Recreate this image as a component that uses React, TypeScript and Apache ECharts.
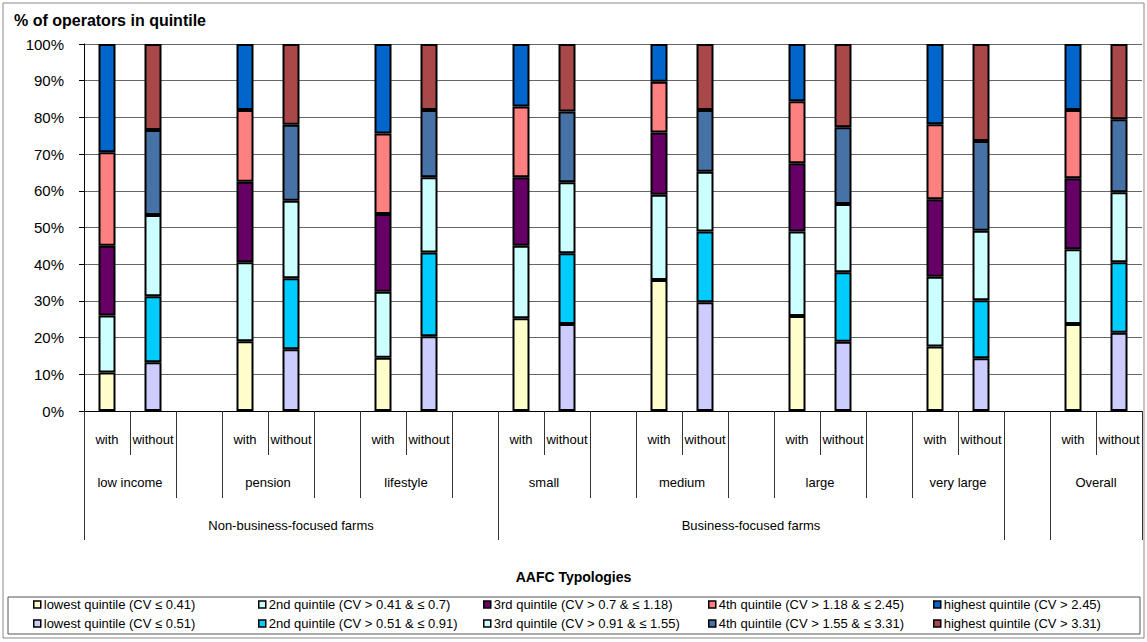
import React, { useEffect, useRef } from "react";
import * as echarts from "echarts";

// ---------- data ----------
const groups = ["low income", "pension", "lifestyle", "small", "medium", "large", "very large", "Overall"];
const subLabels = ["with", "without"];

// slot layout of the category axis (23 slots, '' = spacer slot)
const slotGroup = [
  "low income", "low income", "",
  "pension", "pension", "",
  "lifestyle", "lifestyle", "",
  "small", "small", "",
  "medium", "medium", "",
  "large", "large", "",
  "very large", "very large", "",
  "Overall", "Overall",
];
const slotSub = [
  "with", "without", "",
  "with", "without", "",
  "with", "without", "",
  "with", "without", "",
  "with", "without", "",
  "with", "without", "",
  "with", "without", "",
  "with", "without",
];
const superGroupLabels = ["Non-business-focused farms", "Business-focused farms", "", ""];
const superGroupSpans = [[0, 9], [9, 20], [20, 21], [21, 23]];

const withNames = [
  "lowest quintile (CV ≤ 0.41)",
  "2nd quintile (CV > 0.41 & ≤ 0.7)",
  "3rd quintile (CV > 0.7 & ≤ 1.18)",
  "4th quintile (CV > 1.18 & ≤ 2.45)",
  "highest quintile (CV > 2.45)",
];
const withoutNames = [
  "lowest quintile (CV ≤ 0.51)",
  "2nd quintile (CV > 0.51 & ≤ 0.91)",
  "3rd quintile (CV > 0.91 & ≤ 1.55)",
  "4th quintile (CV > 1.55 & ≤ 3.31)",
  "highest quintile (CV > 3.31)",
];

// values per group (order of `groups`)
const withLowest = [10.5, 19, 14.5, 25.3, 35.7, 25.9, 17.6, 23.7];
const with2nd = [15.5, 21.5, 18, 19.7, 23.2, 23, 19, 20.4];
const with3rd = [19, 22, 21.2, 18.7, 17, 18.6, 21.1, 19.3];
const with4th = [25.5, 19.5, 21.9, 19.3, 13.8, 16.9, 20.4, 18.6];
const withHighest = [29.5, 18, 24.4, 17, 10.3, 15.6, 21.9, 18];

const withoutLowest = [13.3, 16.8, 20.4, 23.7, 29.6, 18.9, 14.4, 21.3];
const without2nd = [18, 19.4, 22.8, 19.3, 19.3, 18.9, 15.8, 19.2];
const without3rd = [22.1, 21.1, 20.5, 19.3, 16.3, 18.6, 18.9, 19.1];
const without4th = [23.2, 20.7, 18.3, 19.3, 16.8, 20.9, 24.5, 19.9];
const withoutHighest = [23.4, 22, 18, 18.4, 18, 22.7, 26.4, 20.5];

const yTicks = [0, 10, 20, 30, 40, 50, 60, 70, 80, 90, 100];

const withColors = ["#FFFFCC", "#CCFFFF", "#660066", "#FF8080", "#0066CC"];
const withoutColors = ["#CCCCFF", "#00CCFF", "#CCFFFF", "#4672A6", "#A84848"];

const FONT = "'Liberation Sans', Arial, sans-serif";

export default function App() {
  const ref = useRef<HTMLDivElement>(null);
  useEffect(() => {
    if (!ref.current) return;
    const chart = echarts.init(ref.current, null, { renderer: "svg" });

    const slotKeys = slotGroup.map((g, i) => `${i}|${g}|${slotSub[i]}`);
    const nSlots = slotKeys.length;

    // half-step points along the axis (0..2*nSlots)
    const halfPoints = Array.from({ length: 2 * nSlots + 1 }, (_, j) => String(j));

    // level-2 boundaries & labels
    const lvl2Ticks = new Set<number>();
    const lvl2Labels: string[] = halfPoints.map(() => "");
    for (let i = 0; i <= nSlots; i++) {
      if (i === 0 || i === nSlots || slotGroup[i] !== slotGroup[i - 1]) lvl2Ticks.add(2 * i);
    }
    let start = 0;
    for (let i = 1; i <= nSlots; i++) {
      if (i === nSlots || slotGroup[i] !== slotGroup[i - 1]) {
        lvl2Labels[start + i] = slotGroup[start];
        start = i;
      }
    }
    // level-3
    const lvl3Ticks = new Set<number>();
    const lvl3Labels: string[] = halfPoints.map(() => "");
    superGroupSpans.forEach(([a, b], k) => {
      lvl3Ticks.add(2 * a);
      lvl3Ticks.add(2 * b);
      lvl3Labels[a + b] = superGroupLabels[k];
    });

    const withVals = [withLowest, with2nd, with3rd, with4th, withHighest];
    const withoutVals = [withoutLowest, without2nd, without3rd, without4th, withoutHighest];

    const mk = (vals: number[], sub: string) =>
      slotGroup.map((g, i) => (slotSub[i] === sub ? vals[groups.indexOf(g)] : null));

    const series: any[] = [];
    withNames.forEach((n, k) =>
      series.push({
        name: n,
        type: "bar",
        stack: "all",
        barWidth: 17,
        itemStyle: { color: withColors[k], borderColor: "#000", borderWidth: 2 },
        data: mk(withVals[k], subLabels[0]),
      })
    );
    withoutNames.forEach((n, k) =>
      series.push({
        name: n,
        type: "bar",
        stack: "all",
        barWidth: 17,
        itemStyle: { color: withoutColors[k], borderColor: "#000", borderWidth: 2 },
        data: mk(withoutVals[k], subLabels[1]),
      })
    );

    const legendX = [33, 258, 483, 708, 933];
    const legendY = [598, 617];
    const legends: any[] = [];
    [withNames, withoutNames].forEach((names, r) =>
      names.forEach((n, c) =>
        legends.push({
          data: [n],
          left: legendX[c],
          top: legendY[r],
          padding: 0,
          itemWidth: 7,
          itemHeight: 7,
          itemGap: 0,
          icon: "rect",
          selectedMode: false,
          itemStyle: { borderColor: "#000", borderWidth: 1.5 },
          textStyle: { fontSize: 13, fontFamily: FONT, color: "#000", padding: [0, 0, 0, -2] },
        })
      )
    );

    const tickColor = "#333";
    const labelBase = { fontSize: 13, fontFamily: FONT, color: "#000" };

    chart.setOption({
      animation: false,
      textStyle: { fontFamily: FONT },
      title: [
        {
          text: "% of operators in quintile",
          left: 14,
          top: 12,
          padding: 0,
          textStyle: { fontSize: 16, fontWeight: "bold", fontFamily: FONT, color: "#000" },
        },
        {
          text: "AAFC Typologies",
          left: "center",
          top: 570,
          padding: 0,
          textStyle: { fontSize: 14, fontWeight: "bold", fontFamily: FONT, color: "#000" },
        },
      ],
      legend: legends,
      grid: { left: 84, top: 44, width: 1058, height: 367, containLabel: false },
      xAxis: [
        {
          type: "category",
          data: slotKeys,
          boundaryGap: true,
          position: "bottom",
          axisLine: { show: true, lineStyle: { color: "#000" } },
          axisTick: { show: true, length: 44, interval: 0, lineStyle: { color: tickColor } },
          axisLabel: { ...labelBase, interval: 0, margin: 22, formatter: (_v: string, i: number) => slotSub[i] },
          splitLine: { show: false },
        },
        {
          type: "category",
          data: halfPoints,
          boundaryGap: false,
          position: "bottom",
          offset: 44,
          axisLine: { show: false },
          axisTick: { show: true, length: 43, interval: (i: number) => lvl2Ticks.has(i), lineStyle: { color: tickColor } },
          axisLabel: { ...labelBase, interval: 0, margin: 21, formatter: (_v: string, i: number) => lvl2Labels[i] },
          splitLine: { show: false },
        },
        {
          type: "category",
          data: halfPoints,
          boundaryGap: false,
          position: "bottom",
          offset: 87,
          axisLine: { show: false },
          axisTick: { show: true, length: 42, interval: (i: number) => lvl3Ticks.has(i), lineStyle: { color: tickColor } },
          axisLabel: { ...labelBase, interval: 0, margin: 21, formatter: (_v: string, i: number) => lvl3Labels[i] },
          splitLine: { show: false },
        },
      ],
      yAxis: {
        type: "value",
        min: yTicks[0],
        max: yTicks[yTicks.length - 1],
        interval: yTicks[1] - yTicks[0],
        axisLine: { show: true, lineStyle: { color: "#000" } },
        axisTick: { show: true, length: 5, lineStyle: { color: "#000" } },
        axisLabel: { fontSize: 15, fontFamily: FONT, color: "#000", margin: 20, formatter: "{value}%" },
        splitLine: { show: true, lineStyle: { color: "#666", width: 1 } },
      },
      graphic: [
        {
          type: "rect",
          shape: { x: 3, y: 3, width: 1141, height: 635 },
          style: { fill: "none", stroke: "#888", lineWidth: 1 },
          silent: true,
        },
        {
          type: "rect",
          shape: { x: 8, y: 597, width: 1132, height: 37 },
          style: { fill: "none", stroke: "#555", lineWidth: 1 },
          silent: true,
        },
      ],
      series,
    });
    return () => chart.dispose();
  }, []);
  return <div ref={ref} style={{ position: "absolute", left: 0, top: 0, width: 1147, height: 642 }} />;
}
